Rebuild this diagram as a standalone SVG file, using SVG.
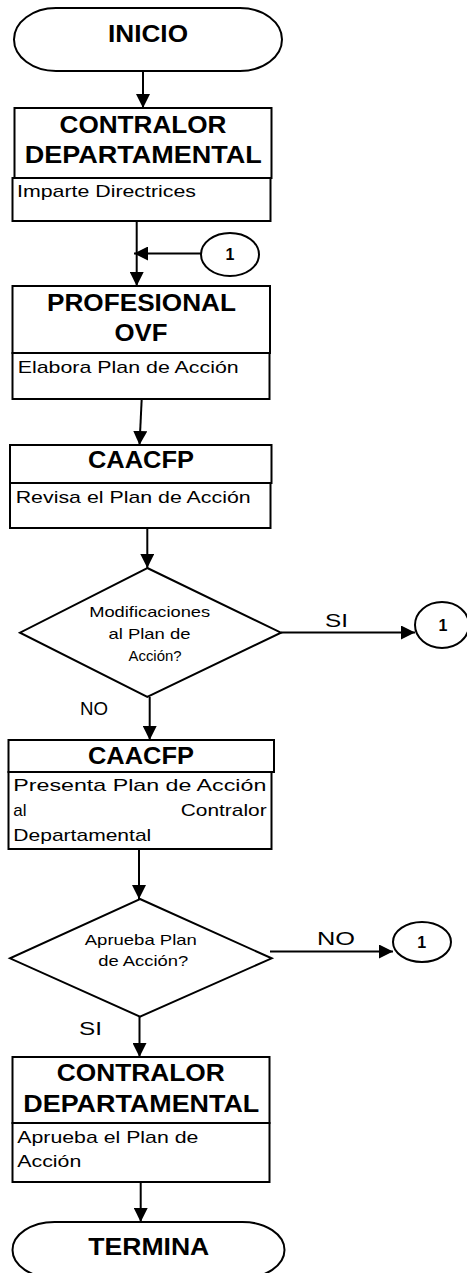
<svg xmlns="http://www.w3.org/2000/svg" width="467" height="1273" viewBox="0 0 467 1273">
<defs>
<marker id="ah" viewBox="0 0 14 14" refX="14" refY="7" markerWidth="14" markerHeight="14" markerUnits="userSpaceOnUse" orient="auto">
<path d="M0,0 L14,7 L0,14 Z" fill="#000"/>
</marker>
<style>
.shape{fill:#fff;stroke:#000;stroke-width:2}
.con{fill:none;stroke:#000;stroke-width:2;marker-end:url(#ah)}
.t{font-family:"Liberation Sans",Arial,sans-serif;font-weight:bold;font-size:24px;text-anchor:middle;fill:#000}
.b{font-family:"Liberation Sans",Arial,sans-serif;font-size:17px;fill:#000}
.d{font-family:"Liberation Sans",Arial,sans-serif;font-size:15px;text-anchor:middle;fill:#000}
.l{font-family:"Liberation Sans",Arial,sans-serif;font-size:19px;fill:#000}
.n{font-family:"Liberation Sans",Arial,sans-serif;font-weight:bold;font-size:16px;text-anchor:middle;fill:#000}
</style>
</defs>
<rect width="467" height="1273" fill="#fff"/>
<g id="connectors">
<line class="con" x1="143" y1="71" x2="143" y2="108"/>
<line class="con" x1="136.7" y1="221" x2="136.7" y2="286"/>
<line class="con" x1="201" y1="253.5" x2="134" y2="253.5"/>
<line class="con" x1="141.7" y1="399" x2="139.5" y2="445"/>
<line class="con" x1="147.3" y1="528" x2="147.3" y2="568"/>
<line class="con" x1="281" y1="632.5" x2="415" y2="632.5"/>
<line class="con" x1="149.7" y1="697" x2="149.7" y2="740"/>
<line class="con" x1="139" y1="849" x2="139" y2="899"/>
<line class="con" x1="270" y1="951.5" x2="393" y2="951.5"/>
<line class="con" x1="139.5" y1="1016.7" x2="139.5" y2="1057"/>
<line class="con" x1="140.7" y1="1183" x2="140.7" y2="1222"/>
<text class="l" x="325" y="626.7" textLength="23" lengthAdjust="spacingAndGlyphs">SI</text>
<text class="l" x="80" y="715" textLength="28" lengthAdjust="spacingAndGlyphs">NO</text>
<text class="l" x="317" y="944.5" textLength="38" lengthAdjust="spacingAndGlyphs">NO</text>
<text class="l" x="79" y="1035" textLength="23" lengthAdjust="spacingAndGlyphs">SI</text>
</g>
<g id="inicio">
<rect class="shape" x="14" y="8" width="268" height="63" rx="42" ry="31.5"/>
<text class="t" x="148" y="42" textLength="80" lengthAdjust="spacingAndGlyphs">INICIO</text>
</g>
<g id="contralor1">
<rect class="shape" x="14.5" y="108" width="257" height="70"/>
<rect class="shape" x="12.5" y="178" width="258" height="43"/>
<text class="t" x="143" y="132.7" textLength="167" lengthAdjust="spacingAndGlyphs">CONTRALOR</text>
<text class="t" x="143.3" y="163.3" textLength="237" lengthAdjust="spacingAndGlyphs">DEPARTAMENTAL</text>
<text class="b" x="17" y="197" textLength="179" lengthAdjust="spacingAndGlyphs">Imparte Directrices</text>
</g>
<g id="conector1a">
<ellipse class="shape" cx="230" cy="254.5" rx="29" ry="21.5"/>
<text class="n" x="230" y="260">1</text>
</g>
<g id="profesional">
<rect class="shape" x="12.5" y="286" width="257.5" height="67"/>
<rect class="shape" x="12.5" y="353" width="257" height="46"/>
<text class="t" x="141.5" y="310.7" textLength="189" lengthAdjust="spacingAndGlyphs">PROFESIONAL</text>
<text class="t" x="141" y="340.7" textLength="53" lengthAdjust="spacingAndGlyphs">OVF</text>
<text class="b" x="17.7" y="372.7" textLength="221" lengthAdjust="spacingAndGlyphs">Elabora Plan de Acción</text>
</g>
<g id="caacfp1">
<rect class="shape" x="10" y="445" width="261.5" height="38"/>
<rect class="shape" x="10" y="483" width="260.5" height="45"/>
<text class="t" x="141" y="468.3" textLength="106" lengthAdjust="spacingAndGlyphs">CAACFP</text>
<text class="b" x="15.7" y="502.7" textLength="235" lengthAdjust="spacingAndGlyphs">Revisa el Plan de Acción</text>
</g>
<g id="decision1">
<polygon class="shape" points="147.3,568 281,632.7 147.3,697 20,632.7"/>
<text class="d" x="149.7" y="617.3" textLength="121" lengthAdjust="spacingAndGlyphs">Modificaciones</text>
<text class="d" x="149.5" y="639.3" textLength="82" lengthAdjust="spacingAndGlyphs">al Plan de</text>
<text class="d" x="155" y="660.7" textLength="53" lengthAdjust="spacingAndGlyphs">Acción?</text>
</g>
<g id="conector1b">
<ellipse class="shape" cx="442" cy="625" rx="27" ry="23"/>
<text class="n" x="443" y="631">1</text>
</g>
<g id="caacfp2">
<rect class="shape" x="8.5" y="740" width="265.5" height="32"/>
<rect class="shape" x="8.5" y="772" width="263" height="77"/>
<text class="t" x="141" y="764" textLength="106" lengthAdjust="spacingAndGlyphs">CAACFP</text>
<text class="b" x="13.3" y="790.7" textLength="253" lengthAdjust="spacingAndGlyphs">Presenta Plan de Acción</text>
<text class="b" x="13.3" y="816">al</text>
<text class="b" x="266.7" y="816" text-anchor="end" textLength="86" lengthAdjust="spacingAndGlyphs">Contralor</text>
<text class="b" x="13.3" y="840.7" textLength="138" lengthAdjust="spacingAndGlyphs">Departamental</text>
</g>
<g id="decision2">
<polygon class="shape" points="140,899 271.7,958.3 140,1016.7 10,958.3"/>
<text class="d" x="140.8" y="945" textLength="112" lengthAdjust="spacingAndGlyphs">Aprueba Plan</text>
<text class="d" x="143.3" y="966" textLength="90" lengthAdjust="spacingAndGlyphs">de Acción?</text>
</g>
<g id="conector1c">
<ellipse class="shape" cx="422" cy="942" rx="29" ry="20"/>
<text class="n" x="421.7" y="948">1</text>
</g>
<g id="contralor2">
<rect class="shape" x="12.5" y="1057" width="257" height="66"/>
<rect class="shape" x="12.5" y="1123" width="257" height="59"/>
<text class="t" x="140.8" y="1081" textLength="168" lengthAdjust="spacingAndGlyphs">CONTRALOR</text>
<text class="t" x="141.3" y="1111.7" textLength="236" lengthAdjust="spacingAndGlyphs">DEPARTAMENTAL</text>
<text class="b" x="17.3" y="1143.3" textLength="181" lengthAdjust="spacingAndGlyphs">Aprueba el Plan de</text>
<text class="b" x="17.3" y="1166.7" textLength="64" lengthAdjust="spacingAndGlyphs">Acción</text>
</g>
<g id="termina">
<rect class="shape" x="12.5" y="1222" width="272" height="56" rx="42" ry="28"/>
<text class="t" x="148.8" y="1255" textLength="121" lengthAdjust="spacingAndGlyphs">TERMINA</text>
</g>
</svg>
